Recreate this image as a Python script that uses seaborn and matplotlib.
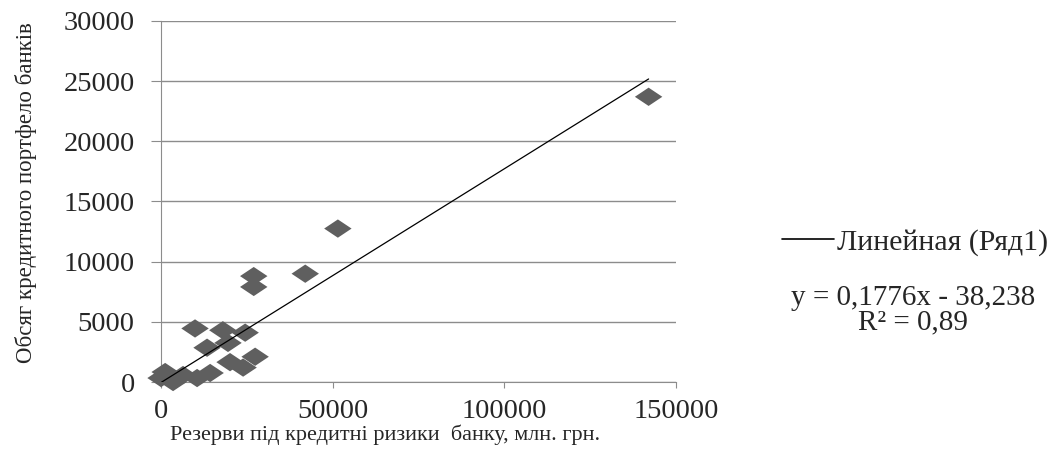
import numpy as np
import pandas as pd
import seaborn as sns
import matplotlib.pyplot as plt
from matplotlib.lines import Line2D

# Дані
reserves = [142000, 51500, 42000, 27000, 27000, 9900, 18000, 24500, 13400, 19500,
            27400, 20100, 23900, 14300, 10500, 1200, 0, 3500, 6400]
portfolio = [23700, 12750, 9000, 8800, 7900, 4450, 4300, 4100, 2850, 3250,
             2100, 1650, 1200, 750, 330, 830, 330, 0, 580]
slope = 0.1776
intercept = -38.238
r2 = 0.89

df = pd.DataFrame({"x": reserves, "y": portfolio})

sns.set_style("white")
plt.rcParams["font.family"] = ["Liberation Serif", "DejaVu Serif"]

fig = plt.figure(figsize=(10.63, 4.53), dpi=100)
ax = fig.add_axes([0.1515, 0.1567, 0.4845, 0.797])

diamond = [(-1, 0), (0, 0.667), (1, 0), (0, -0.667), (-1, 0)]
sns.scatterplot(data=df, x="x", y="y", marker=diamond, s=390, color="#5f5f5f",
                edgecolor="none", ax=ax, zorder=3, clip_on=False)

# лінія тренду
xs = np.array([min(reserves), max(reserves)])
ax.plot(xs, slope * xs + intercept, color="black", lw=0.9, zorder=4)

ax.set_xlim(0, 150000)
ax.set_ylim(0, 30000)
ax.set_xticks([0, 50000, 100000, 150000])
ax.set_yticks(range(0, 30001, 5000))
ax.yaxis.grid(True, color="#8c8c8c", lw=1)
ax.set_axisbelow(True)
for s in ["top", "right"]:
    ax.spines[s].set_visible(False)
for s in ["left", "bottom"]:
    ax.spines[s].set_color("#8c8c8c")
ax.tick_params(axis="both", direction="out", color="#8c8c8c", labelsize=20.5,
               left=True, bottom=True)
ax.tick_params(axis="y", length=7, pad=12)
ax.tick_params(axis="x", length=4, pad=8)

ax.set_xlabel("Резерви під кредитні ризики  банку, млн. грн.", fontsize=16)
ax.xaxis.set_label_coords(0.435, -0.118)
ax.set_ylabel("Обсяг кредитного портфело банків", fontsize=16.5)
ax.yaxis.set_label_coords(-0.24, 0.524)

handle = Line2D([0], [0], color="black", lw=1.2)
fig.legend([handle], ["Линейная (Ряд1)"], loc="center left",
           bbox_to_anchor=(0.724, 0.466), frameon=False, fontsize=21.5,
           handlelength=1.75, handletextpad=0.1, borderaxespad=0)
fig.text(0.859, 0.342, f"y = {slope:.4f}x - {abs(intercept):.3f}".replace(".", ","),
         ha="center", va="center", fontsize=21)
fig.text(0.859, 0.289, f"R² = {r2:.2f}".replace(".", ","),
         ha="center", va="center", fontsize=21)

fig.savefig("out.png", dpi=100)
